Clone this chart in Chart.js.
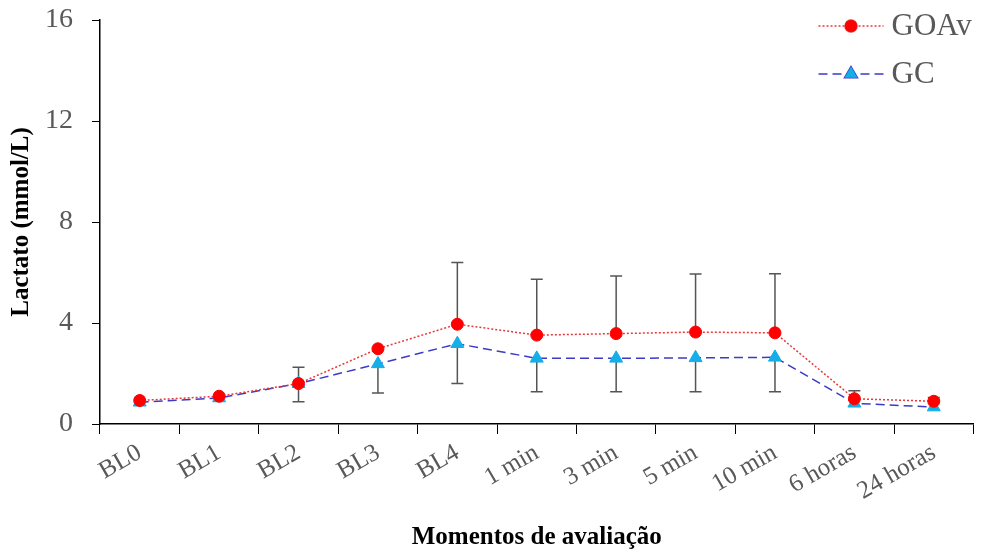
<!DOCTYPE html>
<html>
<head>
<meta charset="utf-8">
<script src="https://cdn.jsdelivr.net/npm/chart.js@4.4.0/dist/chart.umd.min.js"></script>
<style>
  html, body { margin: 0; padding: 0; background: #fff; }
  #wrap { width: 982px; height: 553px; }
</style>
</head>
<body>
<div id="wrap"><canvas id="lactato"></canvas></div>
<script>
// data
const moments = ["BL0", "BL1", "BL2", "BL3", "BL4", "1 min", "3 min", "5 min", "10 min", "6 horas", "24 horas"];
const goavMean = [0.93, 1.1, 1.6, 2.98, 3.95, 3.52, 3.58, 3.64, 3.61, 1.0, 0.9];
const gcMean = [0.86, 1.03, 1.6, 2.38, 3.18, 2.6, 2.6, 2.62, 2.64, 0.82, 0.67];
const goavErrUp = [0, 0, 0.65, 0, 2.45, 2.21, 2.28, 2.3, 2.34, 0.32, 0.15];
const gcErrDown = [0, 0, 0.72, 1.15, 1.58, 1.32, 1.32, 1.34, 1.36, 0, 0];
const yTicks = [0, 4, 8, 12, 16];

const serif = "'Liberation Serif', 'Times New Roman', serif";
const grey = '#595959';

// whiskers: upper for GOAv, lower for GC (as in the original)
const errorBars = {
  id: 'errorBars',
  beforeDatasetsDraw(chart) {
    const { ctx, scales: { x, y } } = chart;
    ctx.save();
    ctx.strokeStyle = '#555';
    ctx.lineWidth = 1.5;
    const cap = 6;
    moments.forEach((m, i) => {
      const px = x.getPixelForValue(i);
      const segs = [];
      if (goavErrUp[i] > 0) segs.push([goavMean[i], goavMean[i] + goavErrUp[i]]);
      if (gcErrDown[i] > 0) segs.push([gcMean[i], gcMean[i] - gcErrDown[i]]);
      segs.forEach(([a, b]) => {
        const ya = y.getPixelForValue(a), yb = y.getPixelForValue(b);
        ctx.beginPath();
        ctx.moveTo(px, ya); ctx.lineTo(px, yb);
        ctx.moveTo(px - cap, yb); ctx.lineTo(px + cap, yb);
        ctx.stroke();
      });
    });
    ctx.restore();
  }
};

// legend drawn by hand to get line + marker samples like the original
const sideLegend = {
  id: 'sideLegend',
  afterDraw(chart) {
    const { ctx, chartArea } = chart;
    ctx.save();
    ctx.font = '31px ' + serif;
    ctx.textBaseline = 'middle';
    chart.data.datasets.forEach((ds, k) => {
      const yy = chartArea.top + 6 + k * 48;
      const x0 = chartArea.right - 155, x1 = chartArea.right - 90;
      ctx.strokeStyle = ds.borderColor;
      ctx.lineWidth = ds.borderWidth;
      ctx.setLineDash(ds.borderDash);
      ctx.beginPath(); ctx.moveTo(x0, yy); ctx.lineTo(x1, yy); ctx.stroke();
      ctx.setLineDash([]);
      Chart.helpers.drawPoint(ctx, {
        pointStyle: ds.pointStyle, radius: ds.pointRadius, borderWidth: 1
      }, (x0 + x1) / 2, yy);
      ctx.fillStyle = ds.pointBackgroundColor;
      ctx.fill();
      ctx.fillStyle = grey;
      ctx.fillText(ds.label, chartArea.right - 82, yy + 1);
    });
    ctx.restore();
  }
};

new Chart(document.getElementById('lactato'), {
  type: 'line',
  data: {
    labels: moments,
    datasets: [
      {
        label: 'GOAv',
        data: goavMean,
        borderColor: '#e8383a',
        borderWidth: 1.5,
        borderDash: [2, 2],
        pointStyle: 'circle',
        pointRadius: 6,
        pointBackgroundColor: '#ff0000',
        pointBorderColor: '#ff0000',
        pointBorderWidth: 1
      },
      {
        label: 'GC',
        data: gcMean,
        borderColor: '#3b3bc8',
        borderWidth: 1.5,
        borderDash: [9, 5],
        pointStyle: 'triangle',
        pointRadius: 7.5,
        pointBackgroundColor: '#14aee8',
        pointBorderColor: '#14aee8',
        pointBorderWidth: 1
      }
    ]
  },
  options: {
    responsive: true,
    maintainAspectRatio: false,
    animation: false,
    layout: { padding: { top: 20, right: 5, left: 0, bottom: 0 } },
    plugins: {
      legend: { display: false },
      tooltip: { enabled: false }
    },
    scales: {
      x: {
        offset: true,
        grid: { offset: true, drawOnChartArea: false, color: '#000', tickLength: 10 },
        border: { color: '#000', width: 1.5 },
        ticks: {
          autoSkip: false, minRotation: 30, maxRotation: 30, padding: 4,
          color: grey, font: { family: serif, size: 25 }
        },
        title: {
          display: true, text: 'Momentos de avaliação', color: '#000',
          font: { family: serif, size: 25, weight: 'bold' }, padding: { top: 0, bottom: 0 }
        },
        afterFit(s) { s.height = 129; s.paddingLeft = 0; s.paddingRight = 0; }
      },
      y: {
        min: 0, max: 16,
        afterBuildTicks(s) { s.ticks = yTicks.map(v => ({ value: v })); },
        grid: { drawOnChartArea: false, color: '#000', tickLength: 8 },
        border: { color: '#000', width: 1.5 },
        ticks: { color: grey, padding: 19, font: { family: serif, size: 28 } },
        title: {
          display: true, text: 'Lactato (mmol/L)', color: '#000',
          font: { family: serif, size: 25, weight: 'bold' }, padding: { top: 7, bottom: 0 }
        },
        afterFit(s) { s.width = 100; s.paddingTop = 0; s.paddingBottom = 0; }
      }
    }
  },
  plugins: [errorBars, sideLegend]
});
</script>
</body>
</html>
